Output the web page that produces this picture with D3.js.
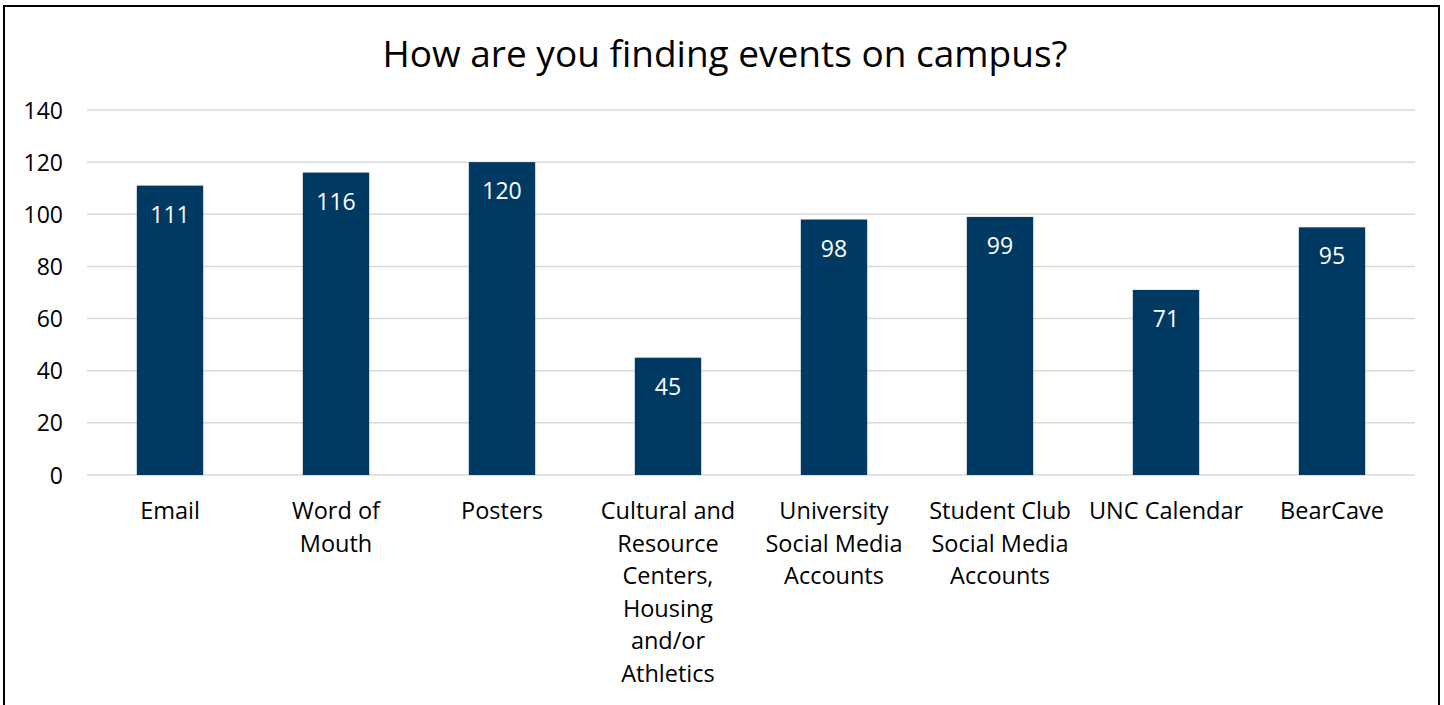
<!DOCTYPE html>
<html>
<head>
<meta charset="utf-8">
<script src="https://cdn.jsdelivr.net/npm/d3@7"></script>
<style>
  html, body { margin: 0; padding: 0; background: #fff; }
  svg { display: block; font-family: "Open Sans", "Noto Sans", sans-serif; }
</style>
</head>
<body>
<svg id="chart" width="1444" height="705"></svg>
<script>
// Category labels (line breaks mark where each label wraps)
const categories = [
  "Email",
  "Word of\nMouth",
  "Posters",
  "Cultural and\nResource\nCenters,\nHousing\nand/or\nAthletics",
  "University\nSocial Media\nAccounts",
  "Student Club\nSocial Media\nAccounts",
  "UNC Calendar",
  "BearCave"
];
const responses = [111, 116, 120, 45, 98, 99, 71, 95];
const yTicks = [0, 20, 40, 60, 80, 100, 120, 140];
const title = "How are you finding events on campus?";

const svg = d3.select("#chart");
const plot = { left: 87, right: 1415, top: 110, bottom: 475 };

// Outer frame
svg.append("rect")
  .attr("x", 4).attr("y", 6)
  .attr("width", 1435).attr("height", 710)
  .attr("fill", "none").attr("stroke", "#000").attr("stroke-width", 2);

const x = d3.scaleBand()
  .domain(categories)
  .range([plot.left, plot.right])
  .paddingInner(0.6)
  .paddingOuter(0.3);

const y = d3.scaleLinear()
  .domain([0, 140])
  .range([plot.bottom, plot.top]);

// Title
svg.append("text")
  .attr("x", 725).attr("y", 67)
  .attr("text-anchor", "middle")
  .attr("font-size", 37)
  .attr("fill", "#000")
  .text(title);

// Gridlines
svg.append("g")
  .selectAll("line")
  .data(yTicks)
  .join("line")
  .attr("x1", plot.left).attr("x2", plot.right)
  .attr("y1", d => y(d)).attr("y2", d => y(d))
  .attr("stroke", "#d9d9d9").attr("stroke-width", 1.5);

// Y axis labels
const yAxis = d3.axisLeft(y).tickValues(yTicks).tickSize(0).tickPadding(0);
const gy = svg.append("g")
  .attr("transform", `translate(63,0)`)
  .call(yAxis);
gy.select(".domain").remove();
gy.selectAll("text")
  .attr("font-size", 23)
  .attr("font-family", "'Open Sans', sans-serif")
  .attr("fill", "#000")
  .attr("dy", "0.35em");

// Bars
svg.append("g")
  .selectAll("rect")
  .data(responses)
  .join("rect")
  .attr("x", (d, i) => x(categories[i]))
  .attr("y", d => y(d))
  .attr("width", x.bandwidth())
  .attr("height", d => y(0) - y(d))
  .attr("fill", "#003a63");

// Value labels inside bars
svg.append("g")
  .selectAll("text")
  .data(responses)
  .join("text")
  .attr("x", (d, i) => x(categories[i]) + x.bandwidth() / 2)
  .attr("y", d => y(d) + 37)
  .attr("text-anchor", "middle")
  .attr("font-size", 23)
  .attr("fill", "#fff")
  .text(d => d);

// Category labels
const xl = svg.append("g");
categories.forEach(c => {
  const cx = x(c) + x.bandwidth() / 2;
  const t = xl.append("text")
    .attr("x", cx)
    .attr("y", 519)
    .attr("text-anchor", "middle")
    .attr("font-size", 23.5)
    .attr("fill", "#000");
  c.split("\n").forEach((line, j) => {
    t.append("tspan")
      .attr("x", cx)
      .attr("y", 519 + j * 32.5)
      .text(line);
  });
});
</script>
</body>
</html>
